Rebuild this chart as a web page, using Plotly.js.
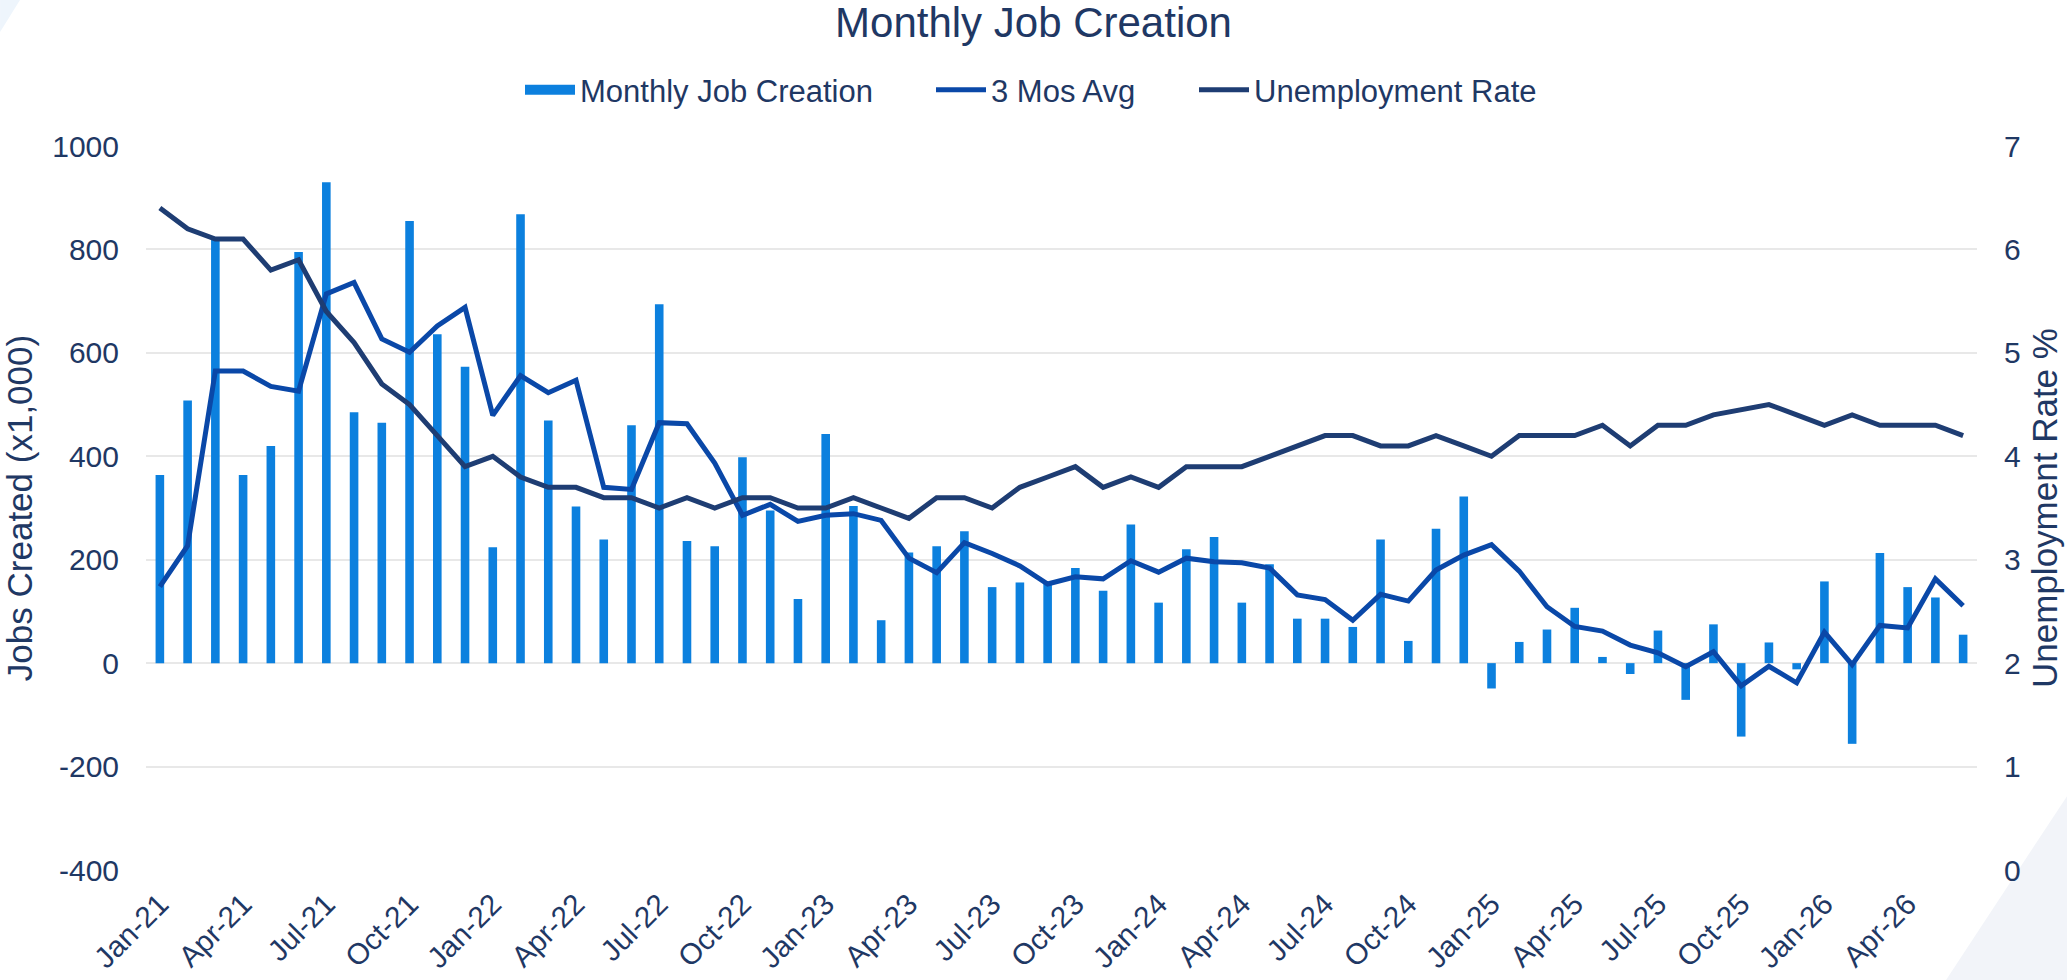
<!DOCTYPE html>
<html>
<head>
<meta charset="utf-8">
<script src="https://cdn.plot.ly/plotly-3.0.1.min.js"></script>
<style>
  html, body { margin: 0; padding: 0; background: #ffffff; }
  #chart { width: 2067px; height: 980px; }
</style>
</head>
<body>
<div id="chart"></div>
<script>
const months = [
  'Jan-21','Feb-21','Mar-21','Apr-21','May-21','Jun-21','Jul-21','Aug-21','Sep-21','Oct-21','Nov-21','Dec-21',
  'Jan-22','Feb-22','Mar-22','Apr-22','May-22','Jun-22','Jul-22','Aug-22','Sep-22','Oct-22','Nov-22','Dec-22',
  'Jan-23','Feb-23','Mar-23','Apr-23','May-23','Jun-23','Jul-23','Aug-23','Sep-23','Oct-23','Nov-23','Dec-23',
  'Jan-24','Feb-24','Mar-24','Apr-24','May-24','Jun-24','Jul-24','Aug-24','Sep-24','Oct-24','Nov-24','Dec-24',
  'Jan-25','Feb-25','Mar-25','Apr-25','May-25','Jun-25','Jul-25','Aug-25','Sep-25','Oct-25','Nov-25','Dec-25',
  'Jan-26','Feb-26','Mar-26','Apr-26','May-26','Jun-26'
];

const jobsCreated = [
  364, 508, 818, 364, 420, 795, 930, 485, 465, 855, 636, 573,
  224, 868, 469, 303, 239, 460, 694, 236, 226, 398, 295, 124,
  443, 304, 83, 214, 226, 255, 147, 156, 155, 184, 140, 268,
  117, 220, 244, 117, 191, 86, 86, 70, 239, 43, 260, 322,
  -49, 41, 65, 107, 12, -21, 63, -71, 75, -142, 40, -12,
  158, -156, 213, 147, 127, 55
];

const threeMonthAvg = [
  148, 227, 565, 565, 535, 526, 714, 736, 627, 601, 652, 688,
  479, 556, 523, 547, 340, 336, 465, 463, 387, 286, 307, 274,
  286, 289, 276, 203, 175, 233, 212, 188, 153, 167, 163, 198,
  176, 203, 196, 194, 184, 132, 123, 83, 133, 120, 180, 209,
  229, 178, 109, 71, 62, 35, 20, -7, 22, -44, -6, -38,
  60, -3, 73, 68, 163, 111
];

const unemploymentRate = [
  6.4, 6.2, 6.1, 6.1, 5.8, 5.9, 5.4, 5.1, 4.7, 4.5, 4.2, 3.9,
  4.0, 3.8, 3.7, 3.7, 3.6, 3.6, 3.5, 3.6, 3.5, 3.6, 3.6, 3.5,
  3.5, 3.6, 3.5, 3.4, 3.6, 3.6, 3.5, 3.7, 3.8, 3.9, 3.7, 3.8,
  3.7, 3.9, 3.9, 3.9, 4.0, 4.1, 4.2, 4.2, 4.1, 4.1, 4.2, 4.1,
  4.0, 4.2, 4.2, 4.2, 4.3, 4.1, 4.3, 4.3, 4.4, 4.45, 4.5, 4.4,
  4.3, 4.4, 4.3, 4.3, 4.3, 4.2
];

const xTickLabels = [
  'Jan-21','Apr-21','Jul-21','Oct-21','Jan-22','Apr-22','Jul-22','Oct-22',
  'Jan-23','Apr-23','Jul-23','Oct-23','Jan-24','Apr-24','Jul-24','Oct-24',
  'Jan-25','Apr-25','Jul-25','Oct-25','Jan-26','Apr-26'
];
const leftTicks = [-400, -200, 0, 200, 400, 600, 800, 1000];
const rightTicks = [0, 1, 2, 3, 4, 5, 6, 7];

const textColor = '#1F3864';
const barColor = '#0C80DE';
const avgColor = '#0A48A8';
const rateColor = '#1E3D73';
const fontFamily = '"Liberation Sans", Arial, Helvetica, sans-serif';

const traces = [
  {
    type: 'bar',
    name: 'Monthly Job Creation',
    x: months,
    y: jobsCreated,
    marker: { color: barColor },
    yaxis: 'y',
    showlegend: false,
    legendgroup: 'jobs'
  },
  {
    // legend entry for the bars (wide rectangular swatch)
    type: 'scatter',
    mode: 'lines',
    name: 'Monthly Job Creation',
    x: [null],
    y: [null],
    line: { color: barColor, width: 17 },
    yaxis: 'y',
    legend: 'legend',
    legendgroup: 'jobs',
    hoverinfo: 'skip'
  },
  {
    type: 'scatter',
    mode: 'lines',
    name: '3 Mos Avg',
    x: months,
    y: threeMonthAvg,
    line: { color: avgColor, width: 5 },
    yaxis: 'y',
    legend: 'legend2'
  },
  {
    type: 'scatter',
    mode: 'lines',
    name: 'Unemployment Rate',
    x: months,
    y: unemploymentRate,
    line: { color: rateColor, width: 5 },
    yaxis: 'y2',
    legend: 'legend3'
  }
];

function legendAt(px) {
  return {
    orientation: 'h',
    xref: 'container', yref: 'container',
    x: px / 2067, xanchor: 'left',
    y: 1 - 90 / 980, yanchor: 'middle',
    font: { family: fontFamily, color: textColor, size: 31 },
    itemwidth: 50,
    bgcolor: 'rgba(0,0,0,0)',
    borderwidth: 0
  };
}

const layout = {
  width: 2067,
  height: 980,
  paper_bgcolor: '#ffffff',
  plot_bgcolor: 'rgba(0,0,0,0)',
  margin: { l: 146, r: 90, t: 146, b: 110, autoexpand: false },
  font: { family: fontFamily, color: textColor, size: 30 },
  title: {
    text: 'Monthly Job Creation',
    font: { family: fontFamily, color: textColor, size: 42 },
    x: 0.5, xref: 'container', xanchor: 'center',
    y: 1 - 22 / 980, yref: 'container', yanchor: 'middle'
  },
  showlegend: true,
  legend: legendAt(520),
  legend2: legendAt(931),
  legend3: legendAt(1194),
  bargap: 0.69,
  xaxis: {
    type: 'category',
    categoryorder: 'array',
    categoryarray: months,
    range: [-0.5, months.length - 0.5],
    tickmode: 'array',
    tickvals: xTickLabels,
    ticktext: xTickLabels,
    tickangle: -45,
    ticks: '',
    ticklabelstandoff: 10,
    tickfont: { family: fontFamily, color: textColor, size: 29.5 },
    showgrid: false,
    showline: false,
    zeroline: false,
    automargin: false
  },
  yaxis: {
    range: [-400, 1000],
    tickmode: 'array',
    tickvals: leftTicks,
    ticktext: leftTicks.map(String),
    ticks: '',
    ticklabelstandoff: 26,
    tickfont: { family: fontFamily, color: textColor, size: 30 },
    showgrid: true,
    gridcolor: '#E8E8E8',
    gridwidth: 1.5,
    zeroline: false,
    showline: false,
    automargin: false,
    title: {
      text: 'Jobs Created (x1,000)',
      font: { family: fontFamily, color: textColor, size: 35 },
      standoff: 15
    }
  },
  yaxis2: {
    overlaying: 'y',
    side: 'right',
    range: [0, 7],
    tickmode: 'array',
    tickvals: rightTicks,
    ticktext: rightTicks.map(String),
    ticks: '',
    ticklabelstandoff: 26,
    tickfont: { family: fontFamily, color: textColor, size: 30 },
    showgrid: false,
    zeroline: false,
    showline: false,
    automargin: false,
    title: {
      text: 'Unemployment Rate %',
      font: { family: fontFamily, color: textColor, size: 35 },
      standoff: 12
    }
  },
  shapes: [
    {
      type: 'path', xref: 'paper', yref: 'paper', layer: 'below',
      path: 'M 0.9831,-0.1519 L 1.0492,-0.1519 L 1.0492,0.1022 Z',
      fillcolor: '#F2F4F9', line: { width: 0 }
    },
    {
      type: 'path', xref: 'paper', yref: 'paper', layer: 'below',
      path: 'M -0.0797,1.2017 L -0.0688,1.2017 L -0.0797,1.1575 Z',
      fillcolor: '#EEF5FC', line: { width: 0 }
    }
  ]
};

Plotly.newPlot('chart', traces, layout, { displayModeBar: false, responsive: false });
</script>
</body>
</html>
